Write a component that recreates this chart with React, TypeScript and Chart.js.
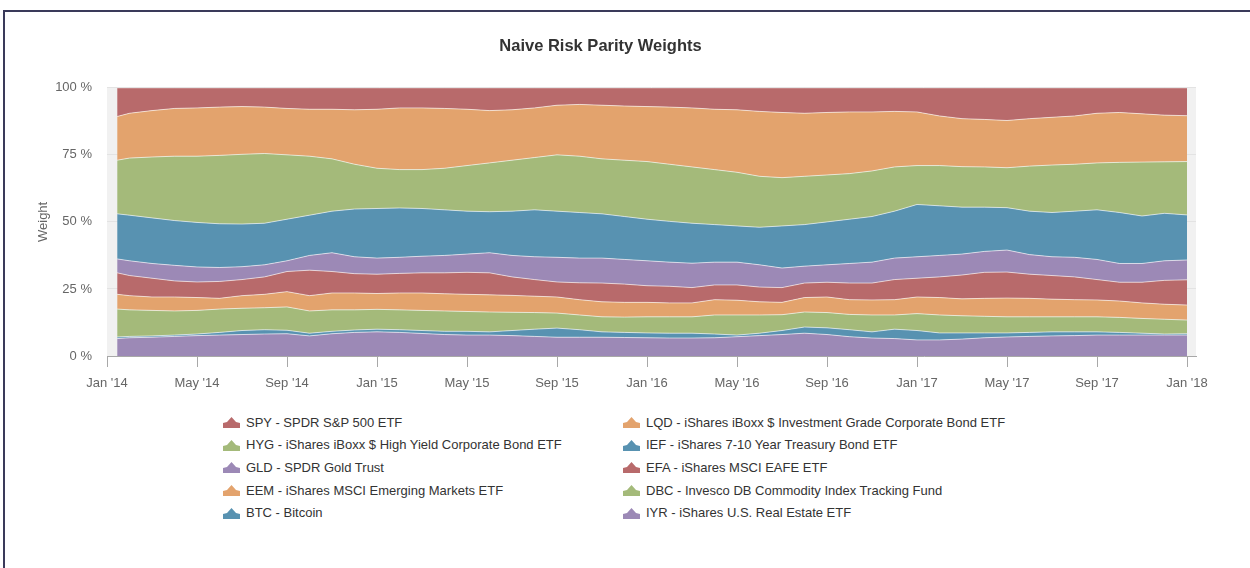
import React, { useEffect, useRef } from "react";
import { Chart, registerables } from "chart.js";

Chart.register(...registerables);

const FONT = '"Liberation Sans", Arial, Helvetica, sans-serif';

const dates = [
  "2014-01-15", "2014-02-01", "2014-03-01", "2014-04-01", "2014-05-01", "2014-06-01", "2014-07-01",
  "2014-08-01", "2014-09-01", "2014-10-01", "2014-11-01", "2014-12-01",
  "2015-01-01", "2015-02-01", "2015-03-01", "2015-04-01", "2015-05-01", "2015-06-01", "2015-07-01",
  "2015-08-01", "2015-09-01", "2015-10-01", "2015-11-01", "2015-12-01",
  "2016-01-01", "2016-02-01", "2016-03-01", "2016-04-01", "2016-05-01", "2016-06-01", "2016-07-01",
  "2016-08-01", "2016-09-01", "2016-10-01", "2016-11-01", "2016-12-01",
  "2017-01-01", "2017-02-01", "2017-03-01", "2017-04-01", "2017-05-01", "2017-06-01", "2017-07-01",
  "2017-08-01", "2017-09-01", "2017-10-01", "2017-11-01", "2017-12-01",
  "2018-01-01",
];

const xTickMonths = [0, 4, 8, 12, 16, 20, 24, 28, 32, 36, 40, 44, 48];
const xTickLabels = [
  "Jan '14", "May '14", "Sep '14", "Jan '15", "May '15", "Sep '15", "Jan '16",
  "May '16", "Sep '16", "Jan '17", "May '17", "Sep '17", "Jan '18",
];
const yTicks = [0, 25, 50, 75, 100];

// series weights in % (bottom of stack first)
const IYR = [6.5, 6.8, 7, 7.3, 7.6, 7.8, 8, 8.2, 8.3, 7.5, 8.3, 8.8, 9, 8.8, 8.4, 8, 7.8, 7.8, 7.6, 7.3, 7, 7, 7, 6.9, 6.8, 6.7, 6.7, 6.8, 7.2, 7.6, 8, 8.5, 8, 7.2, 6.7, 6.5, 6, 6, 6.3, 6.8, 7.1, 7.3, 7.5, 7.6, 7.8, 7.8, 7.8, 7.8, 7.8];
const BTC = [0.6, 0.5, 0.5, 0.5, 0.6, 1.0, 1.5, 1.6, 1.3, 1, 0.9, 0.9, 1, 1, 1.1, 1.2, 1.4, 1.2, 1.9, 2.7, 3.4, 2.8, 2, 1.9, 1.8, 1.8, 1.8, 1.4, 0.6, 0.9, 1.5, 2.3, 2.5, 2.6, 2.3, 3.5, 3.5, 2.6, 2.3, 1.8, 1.5, 1.5, 1.5, 1.4, 1.2, 1, 0.7, 0.4, 0.5];
const DBC = [10.4, 9.9, 9.5, 9, 8.8, 8.7, 8.3, 8.2, 8.7, 8.3, 8, 7.5, 7.4, 7.4, 7.5, 7.6, 7.4, 7.4, 6.8, 6.2, 5.6, 5.5, 5.6, 5.7, 6, 6.1, 6.1, 7.1, 7.5, 6.8, 5.9, 5.6, 5.7, 5.7, 6.3, 5.3, 6.3, 6.7, 6.4, 6.2, 6, 5.8, 5.6, 5.6, 5.6, 5.6, 5.5, 5.5, 5.1];
const EEM = [5.5, 5.3, 5, 5.2, 4.8, 4, 4.7, 5, 5.7, 5.7, 6.3, 6.3, 5.9, 6.3, 6.5, 6.4, 6.4, 6.4, 6.3, 6.1, 6, 5.7, 5.6, 5.5, 5.4, 5.2, 5.2, 5.7, 5.5, 4.9, 4.6, 5.4, 5.8, 5.5, 5.6, 5.7, 6.2, 6.5, 6.3, 6.7, 7, 6.9, 6.6, 6.4, 6.3, 6.1, 5.8, 5.6, 5.6];
const EFA = [8, 7.5, 7, 6, 5.8, 6.3, 6, 6.5, 7.5, 9.5, 8, 7.2, 7.2, 7.3, 7.5, 7.8, 8.2, 8.2, 6.9, 6.2, 5.6, 6.3, 7, 6.8, 6.2, 6.2, 5.7, 5.5, 5.7, 5.5, 5.5, 5.4, 5.5, 6.2, 6.3, 7.5, 7, 7.7, 8.9, 9.7, 9.7, 9, 8.8, 8.5, 7.6, 7, 7.7, 8.9, 9.4];
const GLD = [5.2, 5.5, 5.5, 5.8, 5.6, 5.2, 4.8, 4.5, 4, 5.5, 7, 6.3, 6, 6, 6.2, 6.5, 6.8, 7.5, 8, 8.5, 9.2, 9.2, 9.3, 9.2, 9.3, 9, 9.1, 8.5, 8.5, 8.3, 7.3, 6.3, 6.5, 7.3, 7.8, 8, 8, 8, 7.8, 7.8, 8.2, 7.3, 7, 7.3, 7.5, 7, 7, 7.3, 7.4];
const IEF = [16.8, 17, 17, 16.7, 16.6, 16.3, 15.9, 15.5, 15.5, 15, 15.5, 17.8, 18.5, 18.4, 17.8, 17, 16, 15.3, 16.5, 17.5, 17.2, 17, 16.5, 16, 15.5, 15.2, 14.9, 14, 13.5, 14, 15.7, 15.5, 16, 16.5, 17, 17.5, 19.5, 18.5, 17.5, 16.5, 15.8, 16.2, 16.5, 17.2, 18.5, 19, 17.7, 17.7, 16.8];
const HYG = [20, 21.3, 22.7, 24, 24.7, 25.5, 26, 26, 24, 22, 19.5, 16.7, 15, 14.3, 14.5, 15.5, 17, 18.2, 19, 19.5, 21, 21, 20.5, 21, 21.5, 21.3, 21, 20.5, 20, 19, 18, 18, 17.5, 17, 17, 16.5, 14.5, 15, 15.1, 15, 14.9, 16.8, 17.7, 17.5, 17.5, 18.7, 20.1, 19.2, 19.9];
const LQD = [16.3, 16.7, 17.3, 17.8, 18, 18, 17.8, 17.3, 17.3, 17.5, 18.5, 20.3, 22, 23, 23, 22.3, 21, 19.5, 18.8, 18.5, 18.5, 19.3, 20, 20.2, 20.5, 21.3, 22, 22.5, 23.3, 24.2, 24.3, 23.5, 23.3, 23, 22, 20.7, 20, 18.5, 17.9, 17.7, 17.6, 17.7, 17.8, 18, 18.5, 18.6, 18, 17.4, 17.1];
const SPY = [10.7, 9.5, 8.5, 7.7, 7.5, 7.2, 7, 7.2, 7.7, 8, 8, 8.2, 8, 7.5, 7.5, 7.7, 8, 8.5, 8.2, 7.5, 6.5, 6.2, 6.5, 6.8, 7, 7.2, 7.5, 8, 8.2, 8.8, 9.2, 9.5, 9.2, 9, 9, 8.8, 9, 10.5, 11.5, 11.8, 12.2, 11.5, 11, 10.5, 9.5, 9.2, 9.7, 10.2, 10.4];

const seriesLabels = [
  "IYR - iShares U.S. Real Estate ETF",
  "BTC - Bitcoin",
  "DBC - Invesco DB Commodity Index Tracking Fund",
  "EEM - iShares MSCI Emerging Markets ETF",
  "EFA - iShares MSCI EAFE ETF",
  "GLD - SPDR Gold Trust",
  "IEF - iShares 7-10 Year Treasury Bond ETF",
  "HYG - iShares iBoxx $ High Yield Corporate Bond ETF",
  "LQD - iShares iBoxx $ Investment Grade Corporate Bond ETF",
  "SPY - SPDR S&P 500 ETF",
];
const seriesValues = [IYR, BTC, DBC, EEM, EFA, GLD, IEF, HYG, LQD, SPY];

const RED = "#b86a6b";
const ORANGE = "#e3a36d";
const GREEN = "#a4ba7a";
const BLUE = "#5892b1";
const PURPLE = "#9c89b6";
const seriesColors = [PURPLE, BLUE, GREEN, ORANGE, RED, PURPLE, BLUE, GREEN, ORANGE, RED];

function monthOffset(s: string): number {
  const [y, m, d] = s.split("-").map(Number);
  return (y - 2014) * 12 + (m - 1) + (d - 1) / 31;
}

const plotBg = {
  id: "plotBg",
  beforeDraw(chart: any) {
    const { ctx, chartArea } = chart;
    if (!chartArea) return;
    ctx.save();
    ctx.fillStyle = "#f1f1f1";
    ctx.fillRect(chartArea.left, chartArea.top, chartArea.right - chartArea.left, chartArea.bottom - chartArea.top);
    ctx.restore();
  },
};

function LegendIcon({ color }: { color: string }) {
  return (
    <svg width="17" height="12" viewBox="0 0 17 12" style={{ display: "block" }}>
      <path d="M0 12 L0 7 L4 6 L8.5 1 L13 6 L17 7 L17 12 Z" fill={color} />
    </svg>
  );
}

export default function App() {
  const canvasRef = useRef<HTMLCanvasElement | null>(null);

  useEffect(() => {
    if (!canvasRef.current) return;
    const xs = dates.map(monthOffset);
    const datasets = seriesValues.map((vals, i) => ({
      label: seriesLabels[i],
      data: vals.map((v, j) => ({ x: xs[j], y: v })),
      backgroundColor: seriesColors[i],
      borderColor: "rgba(255,255,255,0.6)",
      borderWidth: 1,
      pointRadius: 0,
      tension: 0,
      fill: i === 0 ? "origin" : "-1",
    }));
    const tickFont = { family: FONT, size: 13 };
    const chart = new Chart(canvasRef.current, {
      type: "line",
      data: { datasets } as any,
      plugins: [plotBg],
      options: {
        animation: false,
        responsive: true,
        maintainAspectRatio: false,
        layout: { padding: { left: 0, right: 27, top: 0, bottom: 0 } },
        plugins: {
          legend: { display: false },
          tooltip: { enabled: false },
          title: {
            display: true,
            text: "Naive Risk Parity Weights",
            color: "#333333",
            font: { family: FONT, size: 16.5, weight: "bold" },
            padding: { top: 25, bottom: 31 },
          },
        },
        scales: {
          x: {
            type: "linear",
            min: 0,
            max: 48.4,
            afterBuildTicks: (axis: any) => {
              axis.ticks = xTickMonths.map((v) => ({ value: v }));
            },
            afterFit: (s: any) => {
              s.height = 46;
            },
            ticks: {
              autoSkip: false,
              maxRotation: 0,
              padding: 9,
              color: "#666666",
              font: tickFont,
              callback: (_v: any, i: number) => xTickLabels[i],
            },
            grid: { drawOnChartArea: false, drawTicks: true, tickLength: 11, color: "#a8a8a8" },
            border: { display: true, color: "#a8a8a8" },
          },
          y: {
            stacked: true,
            min: 0,
            max: 100,
            afterBuildTicks: (axis: any) => {
              axis.ticks = yTicks.map((v) => ({ value: v }));
            },
            afterFit: (s: any) => {
              s.width = 102;
            },
            ticks: {
              padding: 15,
              color: "#666666",
              font: tickFont,
              callback: (v: any) => v + " %",
            },
            grid: { color: "#e3e3e3", drawTicks: false },
            border: { display: false },
            title: {
              display: true,
              text: "Weight",
              color: "#666666",
              font: tickFont,
              padding: { top: 31, bottom: 0 },
            },
          },
        },
      } as any,
    });
    return () => chart.destroy();
  }, []);

  const legendOrder = seriesLabels.map((_, i) => seriesLabels.length - 1 - i);

  return (
    <div
      style={{
        position: "fixed",
        left: 3,
        top: 10,
        width: 1320,
        height: 640,
        borderTop: "2px solid #3a3a5a",
        borderLeft: "2px solid #3a3a5a",
        background: "#ffffff",
        overflow: "hidden",
      }}
    >
      <div style={{ position: "absolute", left: 0, top: 0, width: 1218, height: 390 }}>
        <canvas ref={canvasRef} />
      </div>
      {legendOrder.map((si, k) => {
        const col = k % 2;
        const row = Math.floor(k / 2);
        return (
          <div
            key={si}
            style={{
              position: "absolute",
              left: col === 0 ? 218 : 618,
              top: 402 + row * 22.7,
              height: 16,
              display: "flex",
              alignItems: "center",
              whiteSpace: "nowrap",
              fontFamily: FONT,
              fontSize: 13,
              color: "#333333",
            }}
          >
            <LegendIcon color={seriesColors[si]} />
            <span style={{ marginLeft: 6 }}>{seriesLabels[si]}</span>
          </div>
        );
      })}
    </div>
  );
}
